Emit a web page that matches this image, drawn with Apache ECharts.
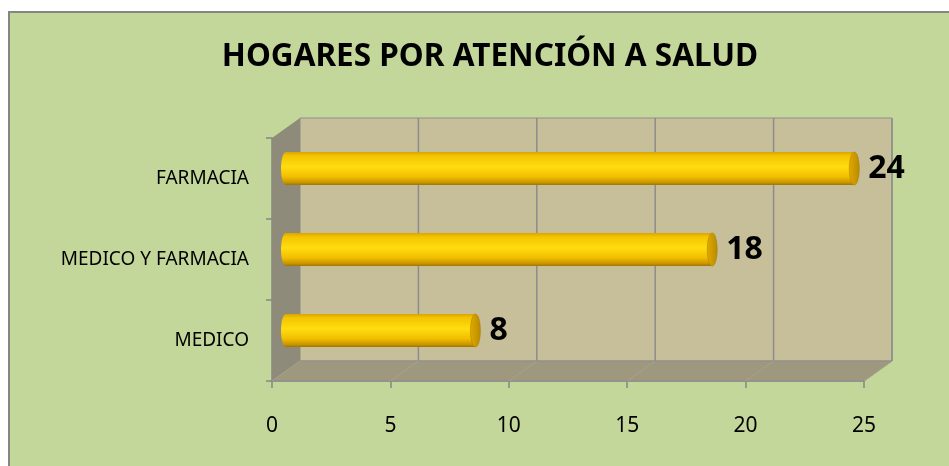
<!DOCTYPE html>
<html>
<head>
<meta charset="utf-8">
<script src="https://cdn.jsdelivr.net/npm/echarts@6/dist/echarts.min.js"></script>
<style>
  html, body { margin: 0; padding: 0; background: #ffffff; }
  #chart { width: 949px; height: 466px; }
</style>
</head>
<body>
<div id="chart"></div>
<script>
// datos del grafico
const categorias = ['MEDICO', 'MEDICO Y FARMACIA', 'FARMACIA'];
const hogares = [8, 18, 24];
const ticksX = [0, 5, 10, 15, 20, 25];

// profundidad del efecto 3D
const DX = 28, DY = -20;

const chart = echarts.init(document.getElementById('chart'));

// paredes y piso (usan el rect del grid y la escala del eje)
function renderParedes(params, api) {
    const cs = params.coordSys;
    const x = cs.x, y = cs.y, w = cs.width, h = cs.height;
    const children = [];
    // pared de fondo
    children.push({ type: 'rect', shape: { x: x + DX, y: y + DY, width: w, height: h },
        style: { fill: '#C7BF99', stroke: '#8E8E8E', lineWidth: 1 } });
    // pared izquierda
    children.push({ type: 'polygon', shape: { points: [[x, y], [x + DX, y + DY], [x + DX, y + h + DY], [x, y + h]] },
        style: { fill: '#8E8B7B' } });
    // piso
    children.push({ type: 'polygon', shape: { points: [[x, y + h], [x + DX, y + h + DY], [x + w + DX, y + h + DY], [x + w, y + h]] },
        style: { fill: '#9E987F', stroke: '#8E8E8E', lineWidth: 1 } });
    ticksX.forEach(function (v) {
        const px = api.coord([v, 0])[0];
        if (v > 0) {
            children.push({ type: 'line', shape: { x1: px + DX, y1: y + DY, x2: px + DX, y2: y + h + DY },
                style: { stroke: '#8C8C8C', lineWidth: 1.5 } });
        }
        children.push({ type: 'line', shape: { x1: px, y1: y + h, x2: px + DX, y2: y + h + DY },
            style: { stroke: '#A8A28A', lineWidth: 1 } });
    });
    return { type: 'group', children: children };
}

// barras cilindricas
function renderCilindro(params, api) {
    const val = api.value(0);
    const cat = api.value(1);
    const p0 = api.coord([0, cat]);
    const p1 = api.coord([val, cat]);
    const band = api.size([0, 1])[1];
    const grueso = band * 0.41;
    const rx = 5;
    const cy = p0[1] + DY / 2;
    const x0 = p0[0] + DX / 2;
    const x1 = p1[0] + DX / 2;
    const grad = new echarts.graphic.LinearGradient(0, 0, 0, 1, [
        { offset: 0, color: '#D9A400' },
        { offset: 0.12, color: '#F4C400' },
        { offset: 0.45, color: '#FFDD10' },
        { offset: 0.75, color: '#F2BE00' },
        { offset: 0.92, color: '#C99500' },
        { offset: 1, color: '#9E7400' }
    ]);
    const tapa = new echarts.graphic.LinearGradient(0, 0, 1, 0, [
        { offset: 0, color: '#E0AA00' },
        { offset: 1, color: '#B98A00' }
    ]);
    return {
        type: 'group',
        children: [
            { type: 'ellipse', shape: { cx: x0, cy: cy, rx: rx, ry: grueso / 2 }, style: { fill: grad } },
            { type: 'rect', shape: { x: x0, y: cy - grueso / 2, width: x1 - x0, height: grueso }, style: { fill: grad } },
            { type: 'ellipse', shape: { cx: x1, cy: cy, rx: rx, ry: grueso / 2 },
                style: { fill: tapa, stroke: '#A87E00', lineWidth: 0.5 } },
            { type: 'text', x: x1 + rx + 9, y: cy,
                style: { text: String(val), fill: '#000', font: 'bold 32px "Noto Sans"',
                    textAlign: 'left', textVerticalAlign: 'middle' } }
        ]
    };
}

const option = {
    backgroundColor: '#ffffff',
    animation: false,
    graphic: [{
        type: 'rect', z: -10, silent: true,
        shape: { x: 9, y: 12, width: 1000, height: 500 },
        style: { fill: '#C4D79B', stroke: '#858585', lineWidth: 2 }
    }],
    title: {
        text: 'HOGARES POR ATENCIÓN A SALUD',
        left: 485, textAlign: 'center', top: 36,
        textStyle: { fontFamily: 'Noto Sans', fontWeight: 'bold', fontSize: 31.5, color: '#000' }
    },
    grid: { left: 272, right: 85, top: 138, bottom: 85 },
    xAxis: {
        type: 'value', min: 0, max: 25, interval: 5,
        splitLine: { show: false },
        axisLine: { show: true, lineStyle: { color: '#868686', width: 1.5 } },
        axisTick: { show: true, length: 7, lineStyle: { color: '#868686', width: 1.5 } },
        axisLabel: { fontFamily: 'Noto Sans', fontSize: 21, color: '#000', margin: 35 }
    },
    yAxis: {
        type: 'category', data: categorias,
        axisLine: { show: true, lineStyle: { color: '#868686', width: 1.5 } },
        axisTick: { show: true, length: 6, lineStyle: { color: '#868686', width: 1.5 } },
        axisLabel: { fontFamily: 'Noto Sans', fontSize: 19, color: '#000', margin: 23 }
    },
    series: [
        {
            type: 'custom', z: 1, silent: true,
            renderItem: renderParedes,
            data: [[0, 0]]
        },
        {
            type: 'custom', z: 5,
            renderItem: renderCilindro,
            encode: { x: 0, y: 1 },
            data: hogares.map(function (v, i) { return [v, i]; })
        }
    ]
};

chart.setOption(option);
</script>
</body>
</html>
